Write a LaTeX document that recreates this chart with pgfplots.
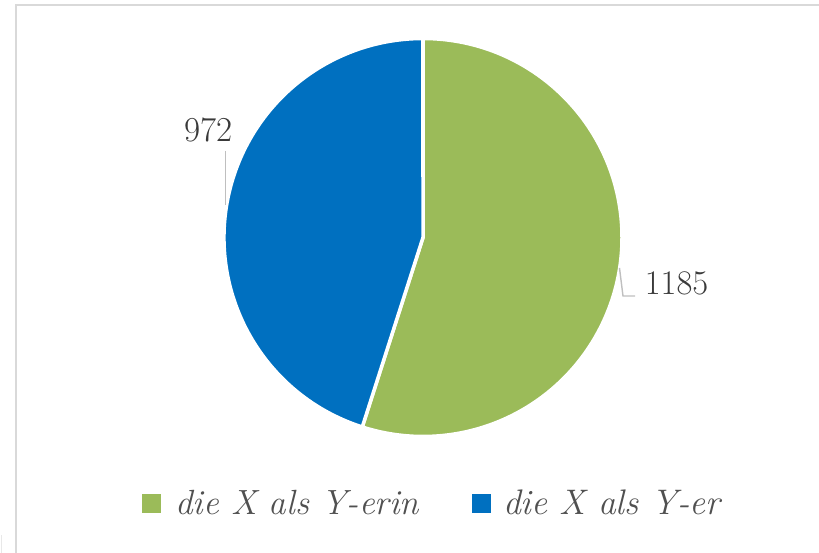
\documentclass[border=0pt]{standalone}
\usepackage{pgfplots}
\pgfplotsset{compat=1.18}
\definecolor{pgreen}{HTML}{9BBB59}
\definecolor{pblue}{HTML}{0070C0}
\definecolor{ltxt}{HTML}{3A3A3A}
\definecolor{legtxt}{HTML}{505050}
\definecolor{lead}{HTML}{BFBFBF}
\definecolor{framec}{HTML}{D9D9D9}
\begin{document}
\begin{tikzpicture}
% data
\pgfmathsetmacro{\va}{1185}% die X als Y-erin
\pgfmathsetmacro{\vb}{972}% die X als Y-er
\pgfmathsetmacro{\tot}{\va+\vb}
\pgfmathsetmacro{\aend}{90-360*(\va/\tot)}
\pgfmathsetmacro{\bend}{\aend-360*(\vb/\tot)}
\begin{axis}[
  scale only axis, width=819pt, height=553pt,
  xmin=0, xmax=819, ymin=0, ymax=553,
  hide axis, clip=false,
]
\coordinate (LL) at (axis cs:0,0);
\coordinate (UR) at (axis cs:819,553);
% frame
\draw[framec, line width=1.8pt] (axis cs:16,0) -- (axis cs:16,548.9);
\draw[framec, line width=1.8pt] (axis cs:15.1,548) -- (axis cs:819,548);
\draw[framec!60, line width=1.5pt] (axis cs:1.5,0) -- (axis cs:1.5,18);
% slices
\fill[pgreen, draw=white, line width=3.5pt, line join=round]
  (axis cs:423,315.5) -- ++(90:199pt) arc[start angle=90, end angle=\aend, radius=199pt] -- cycle;
\fill[pblue, draw=white, line width=3.5pt, line join=round]
  (axis cs:423,315.5) -- ++(\aend:199pt) arc[start angle=\aend, end angle=\bend, radius=199pt] -- cycle;
% leader lines
\draw[lead, line width=1.4pt] (axis cs:225.5,402) -- (axis cs:225.5,348);
\draw[lead, line width=1.4pt] (axis cs:619.5,285) -- (axis cs:623,257) -- (axis cs:635,257);
% data labels
\node[anchor=base, inner sep=0pt, text=ltxt, font=\fontsize{35}{42}\selectfont] at (axis cs:208.5,411) {972};
\node[anchor=base, inner sep=0pt, text=ltxt, font=\fontsize{34.5}{41}\selectfont] at (axis cs:676.5,258) {1185};
% legend
\fill[pgreen] (axis cs:142,40) rectangle (axis cs:161,59);
\fill[pblue] (axis cs:472,40) rectangle (axis cs:491,59);
\node[anchor=base west, inner sep=0pt, text=legtxt, font=\fontsize{35}{42}\selectfont\itshape] at (axis cs:175,38) {die X als Y-erin};
\node[anchor=base west, inner sep=0pt, text=legtxt, font=\fontsize{35.5}{42}\selectfont\itshape] at (axis cs:503,38) {die X als Y-er};
\end{axis}
\pgfresetboundingbox
\path (LL) rectangle (UR);
\end{tikzpicture}
\end{document}
